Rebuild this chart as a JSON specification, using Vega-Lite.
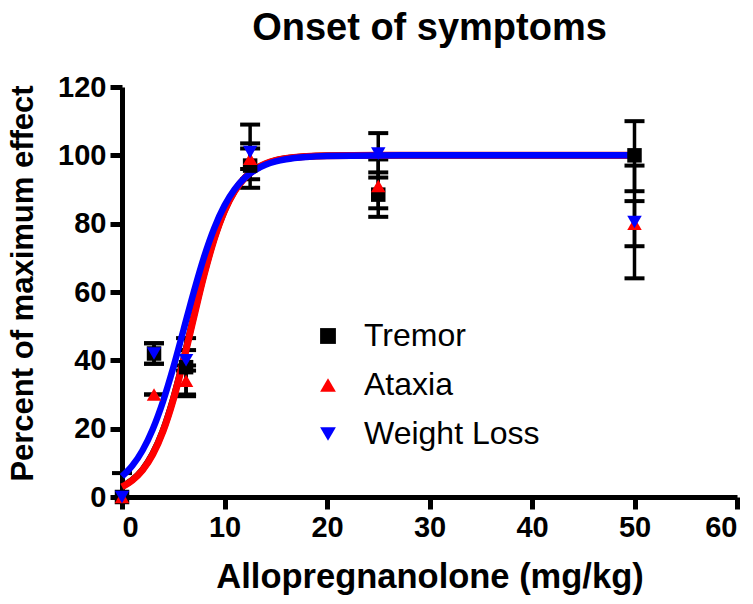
{
  "$schema": "https://vega.github.io/schema/vega-lite/v6.json",
  "width": 615,
  "height": 410,
  "autosize": {"type": "none"},
  "padding": {"left": 122, "top": 87, "right": 16, "bottom": 107},
  "background": "white",
  "title": {"text": "Onset of symptoms", "fontSize": 38, "font": "Liberation Sans", "fontWeight": "bold", "color": "black", "offset": 25, "anchor": "middle"},
  "config": {
    "view": {"stroke": null},
    "axis": {"grid": false, "domainColor": "black", "domainWidth": 5, "tickColor": "black", "tickWidth": 5, "tickSize": 12, "labelFont": "Liberation Sans", "labelFontWeight": "bold", "labelFontSize": 29, "labelColor": "black", "titleFont": "Liberation Sans", "titleFontWeight": "bold", "titleColor": "black", "labelPadding": 4}
  },
  "datasets": {
    "curves": [
      {"series": "Tremor", "x": 0, "y": 3.1}, {"series": "Tremor", "x": 1, "y": 5.0}, {"series": "Tremor", "x": 2, "y": 8.0}, {"series": "Tremor", "x": 3, "y": 12.7}, {"series": "Tremor", "x": 4, "y": 19.5}, {"series": "Tremor", "x": 5, "y": 28.8}, {"series": "Tremor", "x": 6, "y": 40.3}, {"series": "Tremor", "x": 7, "y": 53.0}, {"series": "Tremor", "x": 8, "y": 65.2}, {"series": "Tremor", "x": 9, "y": 75.7}, {"series": "Tremor", "x": 10, "y": 83.8}, {"series": "Tremor", "x": 11, "y": 89.6}, {"series": "Tremor", "x": 12, "y": 93.5}, {"series": "Tremor", "x": 13, "y": 95.95}, {"series": "Tremor", "x": 14, "y": 97.5}, {"series": "Tremor", "x": 15, "y": 98.5}, {"series": "Tremor", "x": 16, "y": 99.08}, {"series": "Tremor", "x": 18, "y": 99.66}, {"series": "Tremor", "x": 20, "y": 99.88}, {"series": "Tremor", "x": 25, "y": 99.99}, {"series": "Tremor", "x": 30, "y": 100}, {"series": "Tremor", "x": 40, "y": 100}, {"series": "Tremor", "x": 50, "y": 100},
      {"series": "Ataxia", "x": 0, "y": 2.97}, {"series": "Ataxia", "x": 1, "y": 4.86}, {"series": "Ataxia", "x": 2, "y": 7.86}, {"series": "Ataxia", "x": 3, "y": 12.47}, {"series": "Ataxia", "x": 4, "y": 19.22}, {"series": "Ataxia", "x": 5, "y": 28.43}, {"series": "Ataxia", "x": 6, "y": 39.89}, {"series": "Ataxia", "x": 7, "y": 52.58}, {"series": "Ataxia", "x": 8, "y": 64.91}, {"series": "Ataxia", "x": 9, "y": 75.55}, {"series": "Ataxia", "x": 10, "y": 83.76}, {"series": "Ataxia", "x": 11, "y": 89.6}, {"series": "Ataxia", "x": 12, "y": 93.5}, {"series": "Ataxia", "x": 13, "y": 96.0}, {"series": "Ataxia", "x": 14, "y": 97.57}, {"series": "Ataxia", "x": 15, "y": 98.53}, {"series": "Ataxia", "x": 16, "y": 99.11}, {"series": "Ataxia", "x": 18, "y": 99.68}, {"series": "Ataxia", "x": 20, "y": 99.89}, {"series": "Ataxia", "x": 25, "y": 99.99}, {"series": "Ataxia", "x": 30, "y": 100}, {"series": "Ataxia", "x": 40, "y": 100}, {"series": "Ataxia", "x": 50, "y": 100},
      {"series": "Weight Loss", "x": 0, "y": 6.02}, {"series": "Weight Loss", "x": 1, "y": 9.14}, {"series": "Weight Loss", "x": 2, "y": 13.62}, {"series": "Weight Loss", "x": 3, "y": 19.84}, {"series": "Weight Loss", "x": 4, "y": 27.97}, {"series": "Weight Loss", "x": 5, "y": 37.86}, {"series": "Weight Loss", "x": 6, "y": 48.88}, {"series": "Weight Loss", "x": 7, "y": 59.98}, {"series": "Weight Loss", "x": 8, "y": 70.18}, {"series": "Weight Loss", "x": 9, "y": 78.68}, {"series": "Weight Loss", "x": 10, "y": 85.28}, {"series": "Weight Loss", "x": 11, "y": 90.09}, {"series": "Weight Loss", "x": 12, "y": 93.45}, {"series": "Weight Loss", "x": 13, "y": 95.72}, {"series": "Weight Loss", "x": 14, "y": 97.23}, {"series": "Weight Loss", "x": 15, "y": 98.22}, {"series": "Weight Loss", "x": 16, "y": 98.86}, {"series": "Weight Loss", "x": 18, "y": 99.53}, {"series": "Weight Loss", "x": 20, "y": 99.81}, {"series": "Weight Loss", "x": 25, "y": 99.98}, {"series": "Weight Loss", "x": 30, "y": 100}, {"series": "Weight Loss", "x": 40, "y": 100}, {"series": "Weight Loss", "x": 50, "y": 100}
    ],
    "pts": [
      {"series": "Tremor", "dose": 0, "mean": 0, "lo": 0, "hi": 7},
      {"series": "Tremor", "dose": 3.125, "mean": 42, "lo": 39, "hi": 45},
      {"series": "Tremor", "dose": 6.25, "mean": 38, "lo": 30, "hi": 46.5},
      {"series": "Tremor", "dose": 12.5, "mean": 97, "lo": 90.5, "hi": 103.5},
      {"series": "Tremor", "dose": 25, "mean": 88.5, "lo": 82, "hi": 95},
      {"series": "Tremor", "dose": 50, "mean": 100, "lo": 89.5, "hi": 110},
      {"series": "Ataxia", "dose": 0, "mean": 0, "lo": 0, "hi": 0},
      {"series": "Ataxia", "dose": 3.125, "mean": 30, "lo": 30, "hi": 30},
      {"series": "Ataxia", "dose": 6.25, "mean": 34, "lo": 29.5, "hi": 38.5},
      {"series": "Ataxia", "dose": 12.5, "mean": 99, "lo": 96, "hi": 102},
      {"series": "Ataxia", "dose": 25, "mean": 91, "lo": 84.5, "hi": 98.8},
      {"series": "Ataxia", "dose": 50, "mean": 80, "lo": 73.4, "hi": 86.6},
      {"series": "Weight Loss", "dose": 0, "mean": 0, "lo": 0, "hi": 0},
      {"series": "Weight Loss", "dose": 3.125, "mean": 42, "lo": 39, "hi": 45},
      {"series": "Weight Loss", "dose": 6.25, "mean": 40, "lo": 37, "hi": 43},
      {"series": "Weight Loss", "dose": 12.5, "mean": 101, "lo": 93, "hi": 109},
      {"series": "Weight Loss", "dose": 25, "mean": 100.5, "lo": 93.5, "hi": 106.5},
      {"series": "Weight Loss", "dose": 50, "mean": 80.5, "lo": 64, "hi": 97}
    ]
  },
  "encoding": {
    "x": {"type": "quantitative", "scale": {"domain": [0, 60], "nice": false}, "axis": {"values": [0, 10, 20, 30, 40, 50, 60], "title": "Allopregnanolone (mg/kg)", "titleFontSize": 34.5, "titlePadding": 18}},
    "y": {"type": "quantitative", "scale": {"domain": [0, 120], "nice": false}, "axis": {"values": [0, 20, 40, 60, 80, 100, 120], "title": "Percent of maximum effect", "titleFontSize": 31, "titlePadding": 18, "titleY": 196}}
  },
  "layer": [
    {
      "data": {"name": "pts"},
      "mark": {"type": "rule", "color": "black", "strokeWidth": 3.5, "opacity": 1},
      "encoding": {"x": {"field": "dose"}, "y": {"field": "lo"}, "y2": {"field": "hi"}}
    },
    {
      "data": {"name": "pts"},
      "mark": {"type": "tick", "color": "black", "size": 20, "thickness": 4, "orient": "horizontal", "opacity": 1},
      "encoding": {"x": {"field": "dose"}, "y": {"field": "lo"}}
    },
    {
      "data": {"name": "pts"},
      "mark": {"type": "tick", "color": "black", "size": 20, "thickness": 4, "orient": "horizontal", "opacity": 1},
      "encoding": {"x": {"field": "dose"}, "y": {"field": "hi"}}
    },
    {
      "data": {"name": "curves"},
      "transform": [{"filter": "datum.series == 'Tremor'"}],
      "mark": {"type": "line", "color": "black", "strokeWidth": 6.5, "interpolate": "monotone"},
      "encoding": {"x": {"field": "x"}, "y": {"field": "y"}}
    },
    {
      "data": {"name": "curves"},
      "transform": [{"filter": "datum.series == 'Ataxia'"}],
      "mark": {"type": "line", "color": "#ff0000", "strokeWidth": 7, "interpolate": "monotone"},
      "encoding": {"x": {"field": "x"}, "y": {"field": "y"}}
    },
    {
      "data": {"name": "curves"},
      "transform": [{"filter": "datum.series == 'Weight Loss'"}],
      "mark": {"type": "line", "color": "#0000ff", "strokeWidth": 6.5, "interpolate": "monotone"},
      "encoding": {"x": {"field": "x"}, "y": {"field": "y"}}
    },
    {
      "data": {"name": "pts"},
      "mark": {"type": "point", "filled": true, "size": 210, "opacity": 1, "strokeWidth": 0},
      "encoding": {
        "x": {"field": "dose"},
        "y": {"field": "mean"},
        "fill": {"field": "series", "type": "nominal", "scale": {"domain": ["Tremor", "Ataxia", "Weight Loss"], "range": ["#000000", "#ff0000", "#0000ff"]}, "legend": {"title": null, "orient": "none", "legendX": 190, "legendY": 233, "labelFontSize": 32, "labelFont": "Liberation Sans", "labelColor": "black", "labelLimit": 0, "symbolSize": 250, "rowPadding": 17, "labelOffset": 20, "symbolStrokeWidth": 0}},
        "shape": {"field": "series", "type": "nominal", "scale": {"domain": ["Tremor", "Ataxia", "Weight Loss"], "range": ["square", "triangle-up", "triangle-down"]}}
      }
    }
  ]
}
